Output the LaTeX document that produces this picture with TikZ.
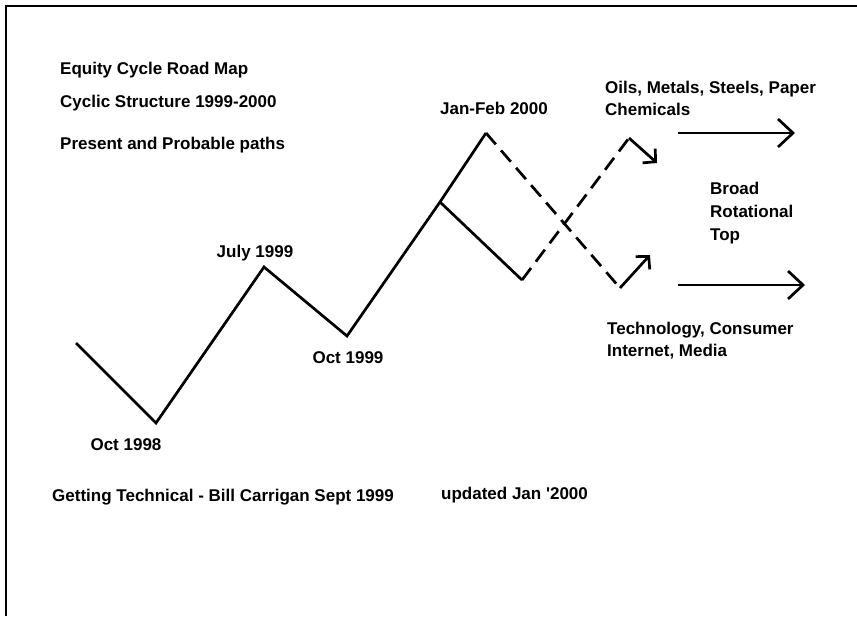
\documentclass[tikz,border=0pt]{standalone}
\usepackage{fontspec}
\setmainfont{Liberation Sans}
\usetikzlibrary{arrows.meta}

\begin{document}
\begin{tikzpicture}[
    x=1pt, y=-1pt,
    txt/.style={font=\fontsize{17}{22}\selectfont\bfseries, inner sep=0pt},
    leftxt/.style={txt, anchor=base west},
    datetxt/.style={txt, anchor=base},
    frame/.style={line width=2.4pt},
    trend/.style={line width=2.7pt, line join=miter},
    probable/.style={trend, dash pattern=on 15pt off 8pt},
    turn/.style={trend, -{Straight Barb[length=9pt, width=19pt]}},
    rotation/.style={trend, -{Straight Barb[length=15pt, width=28pt]}},
]
    \useasboundingbox (0,0) rectangle (857,616);
    %% the frame, only its top and left sides show
    \draw[frame] (6,616) -- (6,6) -- (857,6);

    %% titles in the top left
    \node[leftxt] (title) at (60,74) {Equity Cycle Road Map};
    \node[leftxt] (struct) at (60,107) {Cyclic Structure 1999-2000};
    \node[leftxt] (paths) at (60,149) {Present and Probable paths};

    %% the turning points of the cycle
    \coordinate (start) at (76,343);
    \coordinate (oct98) at (156,423);
    \coordinate (jul99) at (264,267);
    \coordinate (oct99) at (347,336);
    \coordinate (fork) at (440,202);
    \coordinate (janfeb) at (486,133);
    \coordinate (dip) at (522,280);
    \coordinate (lowA) at (620,288);
    \coordinate (tipA) at (650,255);
    \coordinate (highB) at (629,138);
    \coordinate (tipB) at (657,163);

    \draw[trend] (start) -- (oct98) -- (jul99) -- (oct99) -- (fork)
        -- (janfeb);
    \draw[trend] (fork) -- (dip);
    %% the two probable paths, crossing
    \draw[probable] (janfeb) -- (lowA);
    \draw[probable] (dip) -- (highB);
    \draw[turn] (lowA) -- (tipA);
    \draw[turn] (highB) -- (tipB);

    \node[datetxt] (lbl98) at (126,450) {Oct 1998};
    \node[datetxt] (lbljul) at (255,257) {July 1999};
    \node[datetxt] (lbl99) at (348,363) {Oct 1999};
    \node[datetxt] (lbljan) at (494,114) {Jan-Feb 2000};

    %% the sectors, rotating at the top
    \node[leftxt] (oils) at (605,93) {Oils, Metals, Steels, Paper};
    \node[leftxt] (chem) at (605,115) {Chemicals};
    \coordinate (upA) at (678,133);
    \coordinate (upB) at (795,133);
    \draw[rotation] (upA) -- (upB);
    \node[leftxt] (broad) at (710,194) {Broad};
    \node[leftxt] (rot) at (710,217) {Rotational};
    \node[leftxt] (top) at (710,240) {Top};
    \coordinate (dnA) at (678,285);
    \coordinate (dnB) at (805,285);
    \draw[rotation] (dnA) -- (dnB);
    \node[leftxt] (tech) at (607,334) {Technology, Consumer};
    \node[leftxt] (inet) at (607,356) {Internet, Media};

    %% footer
    \node[leftxt] (author) at (52,501)
        {Getting Technical - Bill Carrigan Sept 1999};
    \node[leftxt] (update) at (441,499) {updated Jan \textquotesingle2000};
\end{tikzpicture}
\end{document}
